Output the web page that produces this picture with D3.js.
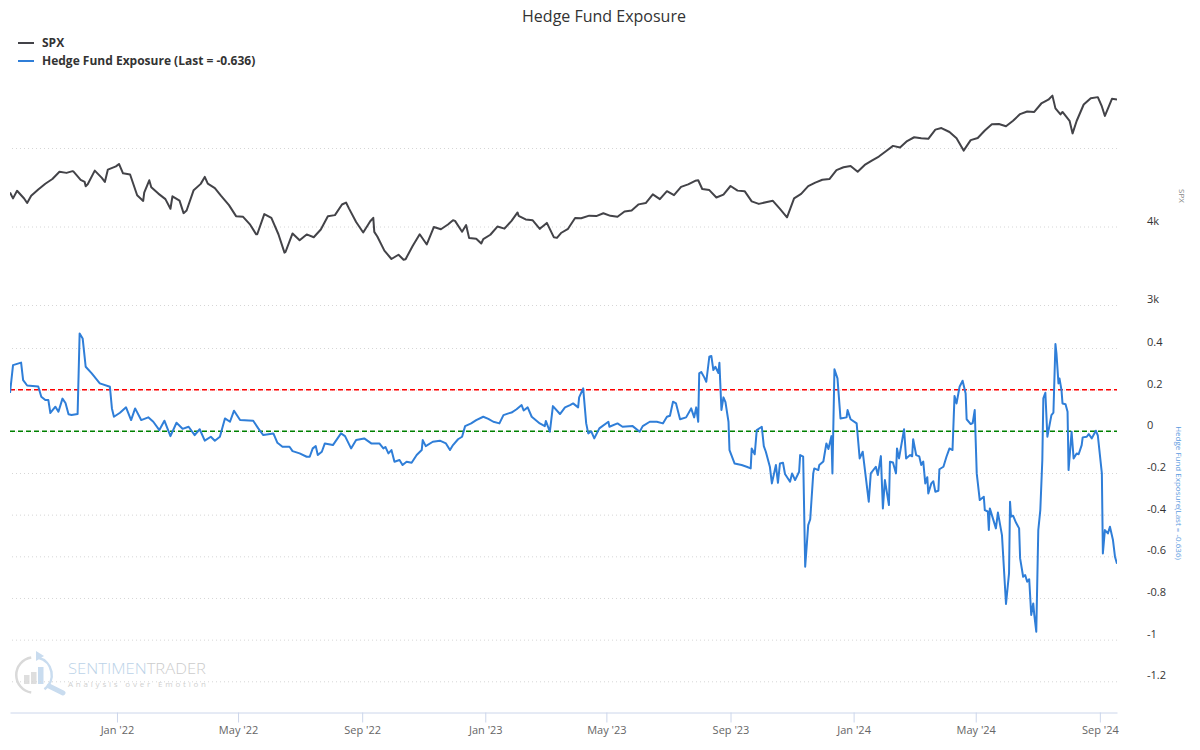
<!DOCTYPE html>
<html>
<head>
<meta charset="utf-8">
<script src="https://cdn.jsdelivr.net/npm/d3@7"></script>
<style>
  body { margin: 0; background: #fff; }
  svg { font-family: "Open Sans", sans-serif; }
</style>
</head>
<body>
<svg id="chart" width="1200" height="750"></svg>
<script>
// S&P 500 closes (weekly plus notable turning points)
const spx = [
  ["2021-09-17",4433],["2021-09-20",4358],["2021-09-24",4455],["2021-10-01",4357],["2021-10-04",4300],
  ["2021-10-08",4391],["2021-10-15",4471],["2021-10-22",4545],["2021-10-29",4605],["2021-11-05",4697],
  ["2021-11-12",4683],["2021-11-18",4705],["2021-11-19",4698],["2021-11-26",4595],["2021-11-30",4567],
  ["2021-12-01",4513],["2021-12-03",4538],["2021-12-10",4712],["2021-12-17",4620],["2021-12-20",4568],
  ["2021-12-23",4725],["2021-12-31",4766],["2022-01-03",4797],["2022-01-07",4677],["2022-01-14",4663],
  ["2022-01-21",4398],["2022-01-27",4326],["2022-01-28",4432],["2022-02-02",4589],["2022-02-04",4500],
  ["2022-02-11",4419],["2022-02-18",4349],["2022-02-23",4226],["2022-02-25",4385],["2022-03-04",4329],
  ["2022-03-08",4170],["2022-03-11",4204],["2022-03-18",4463],["2022-03-25",4543],["2022-03-29",4632],
  ["2022-04-01",4546],["2022-04-08",4488],["2022-04-14",4393],["2022-04-22",4272],["2022-04-29",4132],
  ["2022-05-06",4123],["2022-05-13",4023],["2022-05-19",3900],["2022-05-20",3901],["2022-05-27",4158],
  ["2022-06-03",4109],["2022-06-10",3901],["2022-06-16",3667],["2022-06-17",3675],["2022-06-24",3912],
  ["2022-07-01",3825],["2022-07-08",3899],["2022-07-15",3863],["2022-07-22",3962],["2022-07-29",4130],
  ["2022-08-05",4145],["2022-08-12",4280],["2022-08-16",4305],["2022-08-19",4228],["2022-08-26",4058],
  ["2022-09-02",3924],["2022-09-09",4067],["2022-09-12",4110],["2022-09-13",3932],["2022-09-16",3873],
  ["2022-09-23",3693],["2022-09-30",3586],["2022-10-07",3640],["2022-10-12",3577],["2022-10-14",3583],
  ["2022-10-21",3752],["2022-10-28",3901],["2022-11-04",3771],["2022-11-11",3993],["2022-11-18",3965],
  ["2022-11-25",4026],["2022-11-30",4080],["2022-12-02",4072],["2022-12-09",3934],["2022-12-13",4019],
  ["2022-12-16",3852],["2022-12-23",3845],["2022-12-28",3783],["2022-12-30",3840],["2023-01-06",3895],
  ["2023-01-13",3999],["2023-01-20",3973],["2023-01-27",4071],["2023-02-02",4179],["2023-02-03",4136],
  ["2023-02-10",4090],["2023-02-17",4079],["2023-02-24",3970],["2023-03-03",4046],["2023-03-10",3862],
  ["2023-03-13",3855],["2023-03-17",3917],["2023-03-24",3971],["2023-03-31",4109],["2023-04-06",4105],
  ["2023-04-14",4138],["2023-04-21",4133],["2023-04-28",4169],["2023-05-05",4136],["2023-05-12",4124],
  ["2023-05-19",4192],["2023-05-26",4205],["2023-06-02",4282],["2023-06-09",4299],["2023-06-16",4410],
  ["2023-06-23",4348],["2023-06-30",4450],["2023-07-07",4399],["2023-07-14",4505],["2023-07-21",4536],
  ["2023-07-28",4582],["2023-07-31",4589],["2023-08-04",4478],["2023-08-11",4464],["2023-08-18",4370],
  ["2023-08-25",4406],["2023-09-01",4516],["2023-09-08",4457],["2023-09-15",4450],["2023-09-22",4320],
  ["2023-09-29",4288],["2023-10-06",4309],["2023-10-13",4327],["2023-10-20",4224],["2023-10-27",4117],
  ["2023-11-03",4358],["2023-11-10",4415],["2023-11-17",4514],["2023-11-24",4559],["2023-12-01",4595],
  ["2023-12-08",4604],["2023-12-15",4719],["2023-12-22",4755],["2023-12-29",4770],["2024-01-05",4697],
  ["2024-01-12",4784],["2024-01-19",4840],["2024-01-26",4891],["2024-02-02",4959],["2024-02-09",5027],
  ["2024-02-16",5006],["2024-02-23",5089],["2024-03-01",5137],["2024-03-08",5124],["2024-03-15",5117],
  ["2024-03-22",5234],["2024-03-28",5254],["2024-04-05",5204],["2024-04-12",5123],["2024-04-19",4967],
  ["2024-04-26",5100],["2024-05-03",5128],["2024-05-10",5223],["2024-05-17",5303],["2024-05-24",5305],
  ["2024-05-31",5278],["2024-06-07",5347],["2024-06-14",5432],["2024-06-21",5465],["2024-06-28",5460],
  ["2024-07-05",5567],["2024-07-12",5615],["2024-07-16",5667],["2024-07-19",5505],["2024-07-24",5427],
  ["2024-07-26",5459],["2024-08-02",5346],["2024-08-05",5186],["2024-08-09",5344],["2024-08-16",5554],
  ["2024-08-23",5635],["2024-08-30",5648],["2024-09-03",5529],["2024-09-06",5408],["2024-09-13",5626],
  ["2024-09-18",5618]
];

// Hedge fund exposure
const hfe = [
  ["2021-09-17",0.184],["2021-09-20",0.318],["2021-09-28",0.33],["2021-09-30",0.246],["2021-10-04",0.22],
  ["2021-10-15",0.215],["2021-10-18",0.166],["2021-10-22",0.15],["2021-10-25",0.15],["2021-10-27",0.088],
  ["2021-11-01",0.118],["2021-11-04",0.094],["2021-11-08",0.157],["2021-11-11",0.136],["2021-11-14",0.082],
  ["2021-11-17",0.078],["2021-11-23",0.083],["2021-11-25",0.47],["2021-11-28",0.446],["2021-12-01",0.31],
  ["2021-12-07",0.278],["2021-12-15",0.23],["2021-12-25",0.214],["2021-12-27",0.11],["2021-12-29",0.07],
  ["2022-01-04",0.089],["2022-01-10",0.115],["2022-01-15",0.054],["2022-01-19",0.11],["2022-01-25",0.054],
  ["2022-02-01",0.067],["2022-02-06",0.046],["2022-02-12",0.006],["2022-02-17",0.051],["2022-02-23",-0.023],
  ["2022-03-01",0.041],["2022-03-07",0.012],["2022-03-13",0.022],["2022-03-19",-0.018],["2022-03-24",0.01],
  ["2022-03-29",-0.045],["2022-04-04",-0.026],["2022-04-08",-0.045],["2022-04-13",-0.026],["2022-04-18",0.062],
  ["2022-04-23",0.046],["2022-04-27",0.099],["2022-05-03",0.054],["2022-05-16",0.051],["2022-05-21",0.014],
  ["2022-05-26",-0.018],["2022-06-05",-0.01],["2022-06-09",-0.055],["2022-06-14",-0.074],["2022-06-21",-0.074],
  ["2022-06-24",-0.095],["2022-07-01",-0.106],["2022-07-08",-0.122],["2022-07-11",-0.122],["2022-07-14",-0.082],
  ["2022-07-17",-0.071],["2022-07-19",-0.114],["2022-07-23",-0.098],["2022-07-26",-0.058],["2022-08-03",-0.066],
  ["2022-08-11",-0.01],["2022-08-15",-0.023],["2022-08-21",-0.082],["2022-08-26",-0.042],["2022-09-03",-0.034],
  ["2022-09-10",-0.058],["2022-09-18",-0.058],["2022-09-22",-0.082],["2022-09-24",-0.075],["2022-09-27",-0.106],
  ["2022-09-30",-0.09],["2022-10-03",-0.146],["2022-10-08",-0.138],["2022-10-11",-0.162],["2022-10-15",-0.146],
  ["2022-10-20",-0.151],["2022-10-25",-0.114],["2022-10-30",-0.09],["2022-10-31",-0.042],["2022-11-03",-0.071],
  ["2022-11-10",-0.05],["2022-11-17",-0.045],["2022-11-23",-0.058],["2022-11-27",-0.09],["2022-11-30",-0.066],
  ["2022-12-05",-0.038],["2022-12-09",-0.026],["2022-12-12",0.025],["2022-12-18",0.038],["2022-12-23",0.054],
  ["2022-12-30",0.07],["2023-01-04",0.06],["2023-01-09",0.046],["2023-01-15",0.038],["2023-01-19",0.078],
  ["2023-01-24",0.086],["2023-01-27",0.09],["2023-02-01",0.106],["2023-02-06",0.126],["2023-02-08",0.1],
  ["2023-02-12",0.115],["2023-02-16",0.07],["2023-02-24",0.038],["2023-03-01",0.025],["2023-03-02",0.05],
  ["2023-03-06",-0.002],["2023-03-09",0.121],["2023-03-16",0.083],["2023-03-21",0.115],["2023-03-26",0.126],
  ["2023-03-29",0.134],["2023-04-03",0.115],["2023-04-04",0.163],["2023-04-08",0.206],["2023-04-11",0.038],
  ["2023-04-13",-0.01],["2023-04-16",0.0],["2023-04-19",-0.034],["2023-04-24",0.014],["2023-05-03",0.046],
  ["2023-05-04",0.022],["2023-05-12",0.038],["2023-05-17",0.022],["2023-05-27",0.025],["2023-06-03",-0.002],
  ["2023-06-06",0.025],["2023-06-13",0.046],["2023-06-20",0.046],["2023-06-26",0.038],["2023-06-30",0.07],
  ["2023-07-03",0.075],["2023-07-06",0.142],["2023-07-09",0.134],["2023-07-13",0.058],["2023-07-19",0.067],
  ["2023-07-24",0.11],["2023-07-27",0.067],["2023-07-29",0.115],["2023-07-31",0.046],["2023-08-01",0.278],
  ["2023-08-03",0.285],["2023-08-06",0.259],["2023-08-08",0.238],["2023-08-11",0.358],["2023-08-13",0.362],
  ["2023-08-15",0.294],["2023-08-17",0.31],["2023-08-20",0.28],["2023-08-21",0.329],["2023-08-23",0.102],
  ["2023-08-25",0.163],["2023-08-27",0.14],["2023-08-30",0.046],["2023-08-31",-0.09],["2023-09-05",-0.154],
  ["2023-09-12",-0.162],["2023-09-17",-0.17],["2023-09-21",-0.178],["2023-09-22",-0.082],["2023-09-25",-0.11],
  ["2023-09-27",0.006],["2023-10-02",0.022],["2023-10-04",-0.071],["2023-10-06",-0.098],["2023-10-10",-0.17],
  ["2023-10-12",-0.25],["2023-10-16",-0.162],["2023-10-18",-0.247],["2023-10-20",-0.154],["2023-10-23",-0.151],
  ["2023-10-25",-0.205],["2023-10-30",-0.242],["2023-11-01",-0.202],["2023-11-04",-0.234],["2023-11-08",-0.194],
  ["2023-11-09",-0.114],["2023-11-12",-0.122],["2023-11-14",-0.65],["2023-11-17",-0.45],["2023-11-19",-0.422],
  ["2023-11-22",-0.202],["2023-11-23",-0.178],["2023-11-27",-0.186],["2023-11-28",-0.162],["2023-12-02",-0.145],
  ["2023-12-05",-0.058],["2023-12-07",-0.085],["2023-12-10",-0.023],["2023-12-11",-0.202],["2023-12-13",0.298],
  ["2023-12-16",0.254],["2023-12-19",0.062],["2023-12-25",0.067],["2023-12-26",0.102],["2023-12-29",0.058],
  ["2024-01-04",0.038],["2024-01-07",-0.13],["2024-01-10",-0.098],["2024-01-16",-0.338],["2024-01-18",-0.202],
  ["2024-01-23",-0.17],["2024-01-25",-0.21],["2024-01-28",-0.119],["2024-01-30",-0.37],["2024-02-01",-0.234],
  ["2024-02-05",-0.354],["2024-02-06",-0.146],["2024-02-09",-0.15],["2024-02-12",-0.202],["2024-02-13",-0.082],
  ["2024-02-15",-0.13],["2024-02-20",0.01],["2024-02-22",-0.13],["2024-02-26",-0.114],["2024-02-28",-0.12],
  ["2024-02-29",-0.038],["2024-03-03",-0.114],["2024-03-06",-0.12],["2024-03-08",-0.162],["2024-03-10",-0.145],
  ["2024-03-12",-0.25],["2024-03-14",-0.22],["2024-03-15",-0.298],["2024-03-18",-0.25],["2024-03-20",-0.24],
  ["2024-03-22",-0.29],["2024-03-25",-0.285],["2024-03-26",-0.182],["2024-03-30",-0.17],["2024-04-02",-0.122],
  ["2024-04-05",-0.082],["2024-04-08",-0.09],["2024-04-10",0.17],["2024-04-12",0.134],["2024-04-15",0.214],
  ["2024-04-18",0.243],["2024-04-21",0.182],["2024-04-22",0.058],["2024-04-26",0.035],["2024-04-28",0.04],
  ["2024-04-30",0.102],["2024-05-02",-0.202],["2024-05-05",-0.33],["2024-05-09",-0.314],["2024-05-10",-0.378],
  ["2024-05-13",-0.385],["2024-05-14",-0.474],["2024-05-15",-0.37],["2024-05-18",-0.418],["2024-05-21",-0.466],
  ["2024-05-23",-0.39],["2024-05-27",-0.498],["2024-05-31",-0.829],["2024-06-03",-0.682],["2024-06-04",-0.338],
  ["2024-06-05",-0.41],["2024-06-07",-0.405],["2024-06-10",-0.439],["2024-06-13",-0.466],["2024-06-14",-0.61],
  ["2024-06-17",-0.698],["2024-06-19",-0.69],["2024-06-21",-0.722],["2024-06-23",-0.71],["2024-06-25",-0.882],
  ["2024-06-27",-0.826],["2024-06-28",-0.88],["2024-06-30",-0.962],["2024-07-02",-0.474],["2024-07-04",-0.378],
  ["2024-07-06",-0.138],["2024-07-07",0.158],["2024-07-09",0.185],["2024-07-11",-0.026],["2024-07-15",0.078],
  ["2024-07-17",0.09],["2024-07-19",0.419],["2024-07-20",0.374],["2024-07-22",0.23],["2024-07-23",0.254],
  ["2024-07-25",0.198],["2024-07-26",0.134],["2024-07-29",0.13],["2024-07-31",0.094],["2024-08-01",-0.186],
  ["2024-08-04",-0.002],["2024-08-06",-0.13],["2024-08-09",-0.106],["2024-08-11",-0.11],["2024-08-14",-0.066],
  ["2024-08-15",-0.029],["2024-08-19",-0.026],["2024-08-21",-0.013],["2024-08-24",-0.034],["2024-08-28",0.003],
  ["2024-08-30",-0.02],["2024-09-03",-0.202],["2024-09-04",-0.586],["2024-09-06",-0.474],["2024-09-09",-0.49],
  ["2024-09-11",-0.458],["2024-09-14",-0.522],["2024-09-16",-0.602],["2024-09-18",-0.636]
];

const levels = [0.2, 0];            // overbought / neutral reference lines
const levelColors = ["#ff0000", "#008000"];
const xTicks = ["2022-01-01","2022-05-01","2022-09-01","2023-01-01","2023-05-01","2023-09-01","2024-01-01","2024-05-01","2024-09-01"];
const spxTicks = [3000, 4000, 5000];
const spxTickLabels = {3000: "3k", 4000: "4k", 5000: ""};
const hfeTicks = [0.4, 0.2, 0, -0.2, -0.4, -0.6, -0.8, -1, -1.2];
const lastHfe = hfe[hfe.length - 1][1];

const plotL = 10, plotR = 1117, plotT = 80, plotB = 712.5;
const parse = d3.utcParse("%Y-%m-%d");
const svg = d3.select("#chart");

const x = d3.scaleUtc()
    .domain([parse(spx[0][0]), parse(spx[spx.length - 1][0])])
    .range([plotL, plotR]);
const ySpx = d3.scaleLinear().domain([3000, 5000]).range([305, 148]);
const yHfe = d3.scaleLinear().domain([-1.2, 0.4]).range([681.3, 348]);

// watermark
const wm = svg.append("g").attr("class", "watermark");
wm.append("path")
    .attr("transform", "translate(34,675)")
    .attr("d", d3.arc().innerRadius(16.5).outerRadius(19).startAngle(Math.PI * 1.05).endAngle(Math.PI * 1.95)())
    .attr("fill", "#d9d9d9");
wm.append("path")
    .attr("transform", "translate(34,675)")
    .attr("d", d3.arc().innerRadius(16.5).outerRadius(19).startAngle(0.25).endAngle(Math.PI * 0.8)())
    .attr("fill", "#c9dcef");
wm.append("path").attr("d", "M36,651 L44,656 L36,661 Z").attr("fill", "#c9dcef");
[[24, 9, "#dedede"], [31, 12, "#dedede"], [38, 17, "#c9dcef"]].forEach(b => {
  wm.append("rect").attr("x", b[0]).attr("y", 684 - b[1]).attr("width", 5.5).attr("height", b[1]).attr("fill", b[2]);
});
wm.append("line").attr("x1", 49).attr("y1", 686).attr("x2", 63).attr("y2", 693)
    .attr("stroke", "#c9dcef").attr("stroke-width", 5).attr("stroke-linecap", "round");
const wmText = wm.append("text").attr("x", 68).attr("y", 674)
    .attr("font-size", 15).attr("font-weight", 300)
    .attr("textLength", 138).attr("lengthAdjust", "spacingAndGlyphs");
wmText.append("tspan").attr("fill", "#bcd3e8").text("SENTIMEN");
wmText.append("tspan").attr("fill", "#cccccc").text("TRADER");
wm.append("text").attr("x", 68).attr("y", 687)
    .attr("font-size", 8).attr("fill", "#d0d0d0")
    .attr("textLength", 138).attr("lengthAdjust", "spacing")
    .text("Analysis over Emotion");

// gridlines
function grid(scale, ticks) {
  const g = svg.append("g")
      .attr("transform", `translate(${plotR},0)`)
      .call(d3.axisRight(scale).tickValues(ticks).tickSize(-(plotR - plotL)).tickFormat(""));
  g.select(".domain").remove();
  g.selectAll("line").attr("stroke", "#d6d6d6").attr("stroke-dasharray", "1,3");
}
grid(ySpx, spxTicks);
grid(yHfe, hfeTicks);

// y labels (drawn a little above each gridline)
function labels(scale, ticks, fmt) {
  const g = svg.append("g")
      .attr("transform", `translate(${plotR},0)`)
      .call(d3.axisRight(scale).tickValues(ticks).tickSize(0).tickPadding(30).tickFormat(fmt));
  g.select(".domain").remove();
  g.selectAll("text")
      .attr("y", -6)
      .attr("font-family", "Open Sans, sans-serif")
      .attr("font-size", 11)
      .attr("fill", "#333");
}
labels(ySpx, spxTicks, d => spxTickLabels[d]);
labels(yHfe, hfeTicks, d => d3.format("~g")(d).replace("−", "-"));

// x axis
const xg = svg.append("g")
    .attr("transform", `translate(0,${plotB})`)
    .call(d3.axisBottom(x).tickValues(xTicks.map(parse)).tickSize(10).tickSizeOuter(0).tickPadding(4)
      .tickFormat(d3.utcFormat("%b '%y")));
xg.select(".domain").attr("stroke", "#ccd6eb");
xg.selectAll(".tick line").attr("stroke", "#ccd6eb");
xg.selectAll("text").attr("font-family", "Open Sans, sans-serif").attr("font-size", 11).attr("fill", "#666");

// clip
svg.append("clipPath").attr("id", "plot")
  .append("rect").attr("x", plotL).attr("y", plotT).attr("width", plotR - plotL).attr("height", plotB - plotT);

// reference levels
levels.forEach((v, i) => {
  svg.append("line")
      .attr("x1", plotL).attr("x2", plotR)
      .attr("y1", yHfe(v)).attr("y2", yHfe(v))
      .attr("stroke", levelColors[i]).attr("stroke-width", 1.5).attr("stroke-dasharray", "5,3");
});

// series
const spxLine = d3.line().x(d => x(parse(d[0]))).y(d => ySpx(d[1]));
const hfeLine = d3.line().x(d => x(parse(d[0]))).y(d => yHfe(d[1]));

svg.append("path").datum(spx)
    .attr("clip-path", "url(#plot)")
    .attr("d", spxLine)
    .attr("fill", "none").attr("stroke", "#434348").attr("stroke-width", 2)
    .attr("stroke-linejoin", "round");
svg.append("path").datum(hfe)
    .attr("clip-path", "url(#plot)")
    .attr("d", hfeLine)
    .attr("fill", "none").attr("stroke", "#2f7ed8").attr("stroke-width", 2)
    .attr("stroke-linejoin", "round");

// axis titles
svg.append("text")
    .attr("transform", "translate(1181,196) rotate(90)")
    .attr("text-anchor", "middle").attr("dominant-baseline", "middle")
    .attr("font-size", 8).attr("fill", "#888")
    .text("SPX");
svg.append("text")
    .attr("transform", "translate(1178,493) rotate(90)")
    .attr("text-anchor", "middle").attr("dominant-baseline", "middle")
    .attr("font-size", 8).attr("fill", "#5b9ae0")
    .text(`Hedge Fund Exposure(Last = ${lastHfe})`);

// title
svg.append("text")
    .attr("x", 604).attr("y", 22)
    .attr("text-anchor", "middle")
    .attr("font-size", 16).attr("fill", "#333")
    .text("Hedge Fund Exposure");

// legend
const legendItems = [
  {name: "SPX", color: "#434348"},
  {name: `Hedge Fund Exposure (Last = ${lastHfe})`, color: "#2f7ed8"}
];
const lg = svg.append("g").attr("class", "legend");
legendItems.forEach((it, i) => {
  const yy = 43 + i * 18;
  lg.append("line").attr("x1", 18).attr("x2", 34).attr("y1", yy).attr("y2", yy)
      .attr("stroke", it.color).attr("stroke-width", 2);
  lg.append("text").attr("x", 42).attr("y", yy + 4)
      .attr("font-size", 12).attr("font-weight", "bold").attr("fill", "#333")
      .text(it.name);
});
</script>
</body>
</html>
